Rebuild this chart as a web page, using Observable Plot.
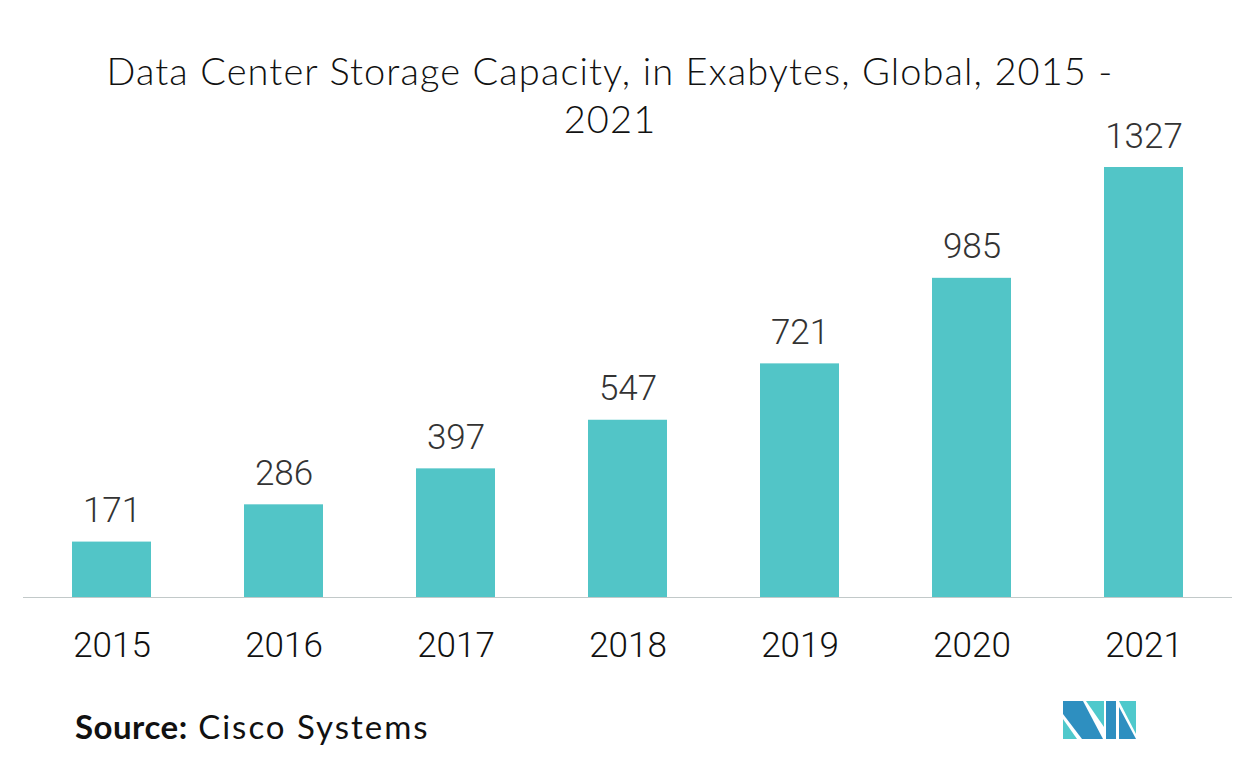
<!DOCTYPE html>
<html>
<head>
<meta charset="utf-8">
<script src="https://cdn.jsdelivr.net/npm/d3@7"></script>
<script src="https://cdn.jsdelivr.net/npm/@observablehq/plot@0.6"></script>
<style>
  html, body { margin: 0; padding: 0; background: #fff; width: 1255px; height: 776px; overflow: hidden; }
  #wrap { position: relative; width: 1255px; height: 776px; }
  #title { position: absolute; left: 0; top: 46px; width: 1220px; text-align: center;
           font-family: Lato, sans-serif; font-size: 38px; font-weight: 300; letter-spacing: 1.1px; line-height: 48px; color: #111; }
  #chart { position: absolute; left: 0; top: 0; }
  #source { position: absolute; left: 75px; top: 706px; font-family: Lato, sans-serif; font-size: 33px; letter-spacing: 2px; color: #111; }
  #source b { font-weight: 700; letter-spacing: 0.5px; }
  #logo { position: absolute; left: 1063px; top: 701px; }
</style>
</head>
<body>
<div id="wrap">
  <div id="chart"></div>
  <div id="title">Data Center Storage Capacity, in Exabytes, Global, 2015 -<br>2021</div>
  <div id="source"><b>Source:</b> Cisco Systems</div>
  <svg id="logo" width="74" height="39" viewBox="0 0 74 39">
    <polygon points="0,0 20,0 40,38 19,38 0,13" fill="#2e8fc0"/>
    <polygon points="0,18 0,38 14,38" fill="#4fc9cc"/>
    <polygon points="23,0 41,0 41,26" fill="#4fc9cc"/>
    <polygon points="43,0 53,0 53,38 43,38" fill="#2e8fc0"/>
    <polygon points="56,0 73,0 73,33" fill="#4fc9cc"/>
    <polygon points="56,6 56,38 73,38" fill="#2e8fc0"/>
  </svg>
</div>
<script>
const years = ["2015", "2016", "2017", "2018", "2019", "2020", "2021"];
const capacity = [171, 286, 397, 547, 721, 985, 1327];
const data = years.map((year, i) => ({year, value: capacity[i]}));

const chart = Plot.plot({
  width: 1255,
  height: 776,
  marginTop: 167,
  marginBottom: 179,
  marginLeft: 23,
  marginRight: 23,
  style: {fontFamily: "Roboto, sans-serif", background: "transparent"},
  x: {domain: years, paddingInner: 0.54, paddingOuter: 0.27, label: null},
  y: {domain: [0, 1327], axis: null},
  marks: [
    Plot.barY(data, {x: "year", y: "value", fill: "#52c5c7"}),
    Plot.ruleY([0], {stroke: "#c2c9c9", strokeWidth: 1.2}),
    Plot.text(data, {x: "year", y: "value", text: d => String(d.value), lineAnchor: "bottom", dy: -20, fontSize: 35, fontWeight: 300, fill: "#333"}),
    Plot.axisX({tickSize: 0, tickPadding: 35, fontSize: 35, fontWeight: 300, color: "#111", label: null})
  ]
});
document.getElementById("chart").appendChild(chart);
</script>
</body>
</html>
